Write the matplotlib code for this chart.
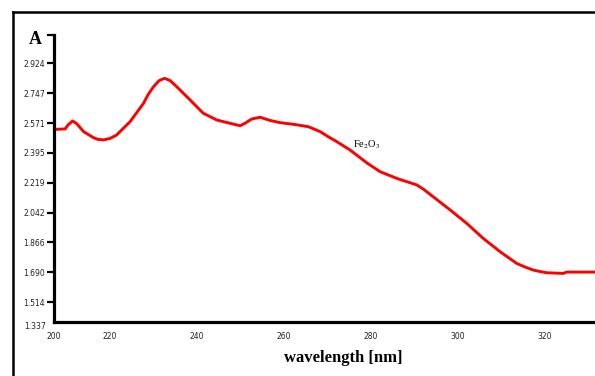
import matplotlib
matplotlib.use("Agg")
import matplotlib.pyplot as plt
from matplotlib.lines import Line2D

plt.rcParams['mathtext.fontset'] = 'stix'

# absorbance spectrum
wavelength = [207.1, 209.7, 210.3, 211.4, 212.4, 213.9, 216.2, 217.2, 218.5, 220.0,
              221.5, 224.6, 227.7, 228.7, 230.0, 231.3, 232.5, 233.8, 235.3, 238.4,
              241.4, 244.5, 247.6, 249.9, 251.0, 252.6, 254.5, 256.8, 259.1, 262.5,
              265.6, 268.3, 270.1, 272.1, 275.2, 279.0, 282.1, 285.9, 287.4, 289.0,
              290.5, 292.0, 294.3, 298.2, 302.0, 305.8, 309.7, 313.5, 315.4, 317.3,
              318.9, 320.4, 322.3, 324.2, 325.0, 331.5]
absorb = [2.534, 2.537, 2.560, 2.584, 2.566, 2.521, 2.485, 2.475, 2.472, 2.481,
          2.501, 2.580, 2.689, 2.738, 2.787, 2.823, 2.836, 2.823, 2.787, 2.708,
          2.630, 2.590, 2.570, 2.556, 2.570, 2.596, 2.606, 2.587, 2.574, 2.563,
          2.550, 2.521, 2.492, 2.462, 2.412, 2.337, 2.284, 2.245, 2.232, 2.219,
          2.206, 2.182, 2.136, 2.058, 1.979, 1.890, 1.811, 1.742, 1.721, 1.703,
          1.694, 1.687, 1.685, 1.683, 1.691, 1.691]

x_ticks = [220, 240, 260, 280, 300, 320]
y_ticks = [1.514, 1.690, 1.866, 2.042, 2.219, 2.395, 2.571, 2.747, 2.924]
x_lo, x_hi = 207.1, 331.5
y_lo, y_hi = 1.396, 3.095

fig = plt.figure(figsize=(5.95, 3.76), dpi=100)
ax = fig.add_axes([54 / 595, (376 - 322) / 376, 1 - 54 / 595, (322 - 34.5) / 376])

ax.plot(wavelength, absorb, color='#ff0000', lw=2.1,
        solid_capstyle='round', solid_joinstyle='round')

ax.set_xlim(x_lo, x_hi)
ax.set_ylim(y_lo, y_hi)

ax.set_xticks([x_lo] + x_ticks)
ax.set_xticklabels(['200'] + [str(t) for t in x_ticks])
ax.set_yticks(y_ticks + [y_hi])
ax.set_yticklabels(['%.3f' % t for t in y_ticks] + [''])
ax.tick_params(axis='x', length=0, pad=7, labelsize=5.5, labelcolor='#222222')
ax.tick_params(axis='y', length=5, width=1.6, pad=1.5, labelsize=5.5, labelcolor='#222222')

for s in ['top', 'right']:
    ax.spines[s].set_visible(False)
for s in ['left', 'bottom']:
    ax.spines[s].set_linewidth(2.3)

# corner value on the y axis
ax.annotate('1.337', xy=(0, 0), xycoords='axes fraction', xytext=(-6, -3),
            textcoords='offset points', ha='right', va='center',
            fontsize=5.5, color='#222222')

ax.text(275.9, 2.442, 'Fe$_2$O$_3$', fontsize=7.5, family='Liberation Serif',
        ha='left', va='center')

fig.text(35 / 595, 1 - 40 / 376, 'A', fontsize=13, fontweight='bold',
         family='Liberation Serif', ha='center', va='center')
fig.text(343 / 595, 1 - 358 / 376, 'wavelength [nm]', fontsize=12, fontweight='bold',
         family='Liberation Serif', ha='center', va='center')

# outer frame
fig.add_artist(Line2D([13 / 595, 13 / 595], [0, 1 - 12 / 376], color='black', lw=1.8,
                      transform=fig.transFigure))
fig.add_artist(Line2D([13 / 595, 1], [1 - 12 / 376, 1 - 12 / 376], color='black', lw=1.8,
                      transform=fig.transFigure))

fig.savefig('out.png', dpi=100)
